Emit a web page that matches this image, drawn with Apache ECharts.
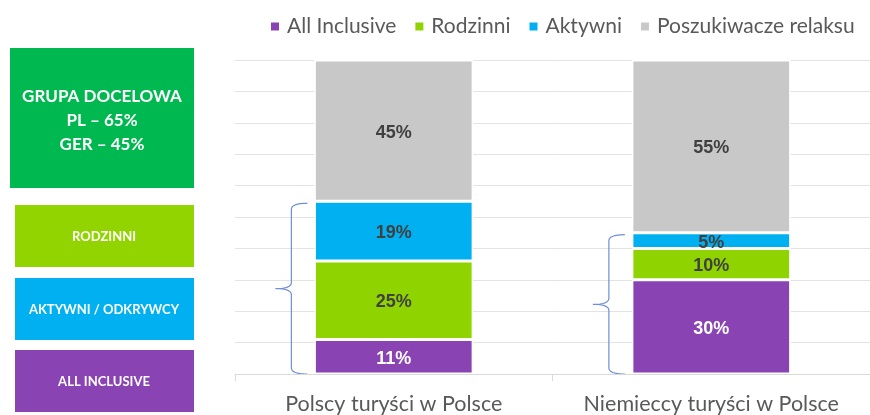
<!DOCTYPE html>
<html>
<head>
<meta charset="utf-8">
<script src="https://cdn.jsdelivr.net/npm/echarts@6/dist/echarts.min.js"></script>
<style>
html,body{margin:0;padding:0;background:#fff;}
#chart{width:870px;height:415px;}
</style>
</head>
<body>
<div id="chart"></div>
<script>
const categories = ['Polscy turyści w Polsce', 'Niemieccy turyści w Polsce'];
const seriesNames = ['All Inclusive', 'Rodzinni', 'Aktywni', 'Poszukiwacze relaksu'];
const allInclusive = [11, 30];
const rodzinni = [25, 10];
const aktywni = [19, 5];
const relaks = [45, 55];
const braceTops = [55, 45];
const boxTitle = ['GRUPA DOCELOWA', 'PL – 65%', 'GER – 45%'];
const boxLabels = ['RODZINNI', 'AKTYWNI / ODKRYWCY', 'ALL INCLUSIVE'];

const colors = ['#8A43B2', '#8FD400', '#00B0F0', '#C8C8C8'];
const labelColors = ['#ffffff', '#404040', '#404040', '#404040'];
const seriesData = [allInclusive, rodzinni, aktywni, relaks];

const chart = echarts.init(document.getElementById('chart'), null, {renderer: 'canvas'});

const option = {
  animation: false,
  backgroundColor: '#ffffff',
  legend: {
    data: seriesNames,
    left: 264,
    top: 11,
    itemWidth: 10,
    itemHeight: 10,
    itemGap: 17,
    icon: 'rect',
    textStyle: {fontFamily: 'Lato', fontSize: 21, color: '#595959', padding: [0, 0, 0, 2]}
  },
  grid: {left: 235, top: 60, width: 645, height: 317},
  xAxis: {
    type: 'category',
    data: categories,
    axisLine: {lineStyle: {color: '#D9D9D9', width: 1}},
    axisTick: {show: true, length: 7, lineStyle: {color: '#D9D9D9'}},
    axisLabel: {interval: 0, fontFamily: 'Lato', fontSize: 21.5, color: '#595959', margin: 19}
  },
  yAxis: {
    type: 'value',
    min: 0, max: 100, interval: 10,
    axisLabel: {show: false},
    axisLine: {show: false},
    axisTick: {show: false},
    splitLine: {lineStyle: {color: '#E3E3E3', width: 1}}
  },
  series: seriesNames.map((name, i) => ({
    name: name,
    type: 'bar',
    stack: 'total',
    barWidth: '50%',
    data: seriesData[i],
    itemStyle: {color: colors[i], borderColor: '#ffffff', borderWidth: 1.5},
    label: {
      show: true,
      position: 'inside',
      offset: [0, 2],
      formatter: '{c}%',
      fontFamily: 'Liberation Sans',
      fontWeight: 'bold',
      fontSize: 18,
      color: labelColors[i]
    }
  }))
};
chart.setOption(option);

function quad(p0, p1, p2, n) {
  const pts = [];
  for (let k = 0; k <= n; k++) {
    const t = k / n;
    const a = (1 - t) * (1 - t), b = 2 * (1 - t) * t, c = t * t;
    pts.push([a * p0[0] + b * p1[0] + c * p2[0], a * p0[1] + b * p1[1] + c * p2[1]]);
  }
  return pts;
}
function bracePoints(tipX, vX, midX, top, bottom) {
  const mid = (top + bottom) / 2;
  const r = 6;
  let pts = [];
  pts = pts.concat(quad([tipX, top], [vX, top], [vX, top + r], 8));
  pts = pts.concat(quad([vX, mid - r], [vX, mid], [midX, mid], 8));
  pts = pts.concat(quad([midX, mid], [vX, mid], [vX, mid + r], 8));
  pts = pts.concat(quad([vX, bottom - r], [vX, bottom], [tipX, bottom], 8));
  return pts;
}

const graphics = [];
// left boxes
graphics.push({type: 'rect', shape: {x: 10, y: 48, width: 184, height: 140}, style: {fill: '#00B850'}});
graphics.push({type: 'text', x: 102, y: 121, style: {
  text: boxTitle.join('\n'), fill: '#ffffff', font: 'bold 17px Lato', lineHeight: 24,
  align: 'center', verticalAlign: 'middle'
}});
const boxColors = ['#92D400', '#00B0F0', '#8A43B2'];
const boxTops = [205, 278, 350];
boxLabels.forEach((t, i) => {
  graphics.push({type: 'rect', shape: {x: 15, y: boxTops[i], width: 179, height: 62}, style: {fill: boxColors[i]}});
  graphics.push({type: 'text', x: 104, y: boxTops[i] + 32, style: {
    text: t, fill: '#ffffff', font: 'bold 13px Lato', align: 'center', verticalAlign: 'middle'
  }});
});

// braces computed from data through the axis scales
const bandW = chart.convertToPixel({gridIndex: 0}, [1, 0])[0] - chart.convertToPixel({gridIndex: 0}, [0, 0])[0];
const barHalf = 0.25 * bandW;
categories.forEach((c, i) => {
  const center = chart.convertToPixel({gridIndex: 0}, [i, 0]);
  const topPx = chart.convertToPixel({gridIndex: 0}, [i, braceTops[i]])[1] + 2;
  const barLeft = center[0] - barHalf;
  const pts = bracePoints(barLeft - 7, barLeft - 23, barLeft - 39, topPx, center[1]);
  graphics.push({type: 'polyline', shape: {points: pts}, style: {fill: null, stroke: '#6F8FD6', lineWidth: 1.2}});
});

chart.setOption({graphic: graphics});
</script>
</body>
</html>
